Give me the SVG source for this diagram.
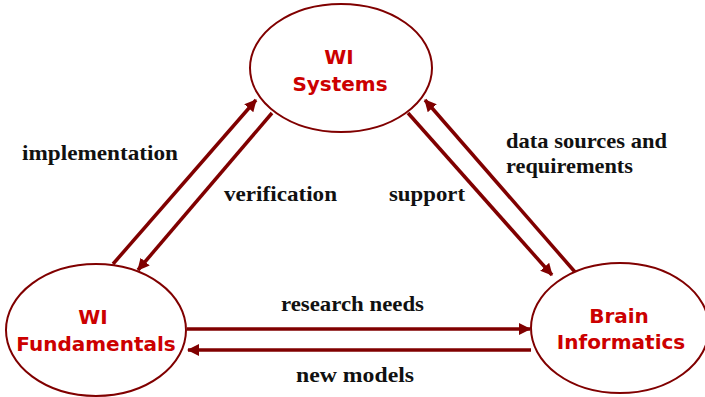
<svg xmlns="http://www.w3.org/2000/svg" width="705" height="397" viewBox="0 0 705 397">
<style>
.node{fill:#fff;stroke:#800000;stroke-width:2}
.nt{font-family:"DejaVu Sans",Verdana,sans-serif;font-weight:bold;font-size:20px;fill:#cc0000;text-anchor:middle}
.lbl{font-family:"Liberation Serif","Times New Roman",serif;font-weight:bold;font-size:22px;fill:#111}
.conn{stroke:#800000;stroke-width:3.5;fill:none}
</style>
<defs>
<marker id="ah" markerUnits="userSpaceOnUse" markerWidth="14" markerHeight="12" refX="11" refY="6" orient="auto">
<path d="M0,0 L12,6 L0,12 Z" fill="#800000"/>
</marker>
</defs>
<rect width="705" height="397" fill="#fff"/>
<g id="connectors">
<line class="conn" x1="113" y1="264" x2="256" y2="100" marker-end="url(#ah)"/>
<line class="conn" x1="272" y1="113" x2="138" y2="270" marker-end="url(#ah)"/>
<line class="conn" x1="408" y1="113" x2="552" y2="275" marker-end="url(#ah)"/>
<line class="conn" x1="575" y1="272" x2="425" y2="100" marker-end="url(#ah)"/>
<line class="conn" x1="187" y1="329" x2="530" y2="329" marker-end="url(#ah)"/>
<line class="conn" x1="531" y1="350" x2="188" y2="350" marker-end="url(#ah)"/>
</g>
<g id="wi-systems">
<ellipse class="node" cx="341" cy="68" rx="91" ry="64"/>
<text class="nt" x="339" y="64">WI</text>
<text class="nt" x="340" y="91">Systems</text>
</g>
<g id="wi-fundamentals">
<ellipse class="node" cx="96" cy="330" rx="90" ry="66"/>
<text class="nt" x="93" y="324">WI</text>
<text class="nt" x="96" y="351">Fundamentals</text>
</g>
<g id="brain-informatics">
<ellipse class="node" cx="620" cy="328" rx="89" ry="65"/>
<text class="nt" x="619" y="323">Brain</text>
<text class="nt" x="621" y="349">Informatics</text>
</g>
<g id="labels">
<text class="lbl" x="22" y="160" textLength="156" lengthAdjust="spacingAndGlyphs">implementation</text>
<text class="lbl" x="224" y="201" textLength="113" lengthAdjust="spacingAndGlyphs">verification</text>
<text class="lbl" x="389" y="201" textLength="76" lengthAdjust="spacingAndGlyphs">support</text>
<text class="lbl" x="506" y="148" textLength="161" lengthAdjust="spacingAndGlyphs">data sources and</text>
<text class="lbl" x="506" y="173" textLength="127" lengthAdjust="spacingAndGlyphs">requirements</text>
<text class="lbl" x="281" y="311" textLength="143" lengthAdjust="spacingAndGlyphs">research needs</text>
<text class="lbl" x="296" y="382" textLength="118" lengthAdjust="spacingAndGlyphs">new models</text>
</g>
</svg>
